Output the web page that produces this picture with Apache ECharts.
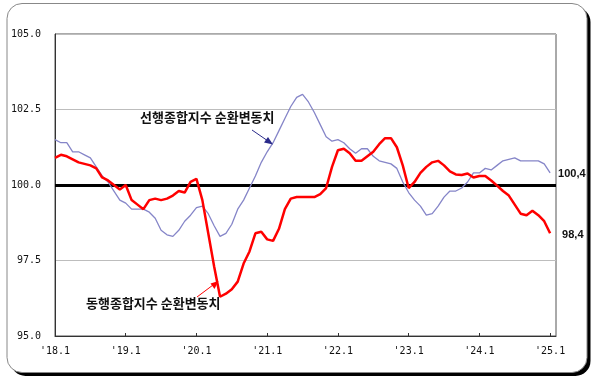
<!DOCTYPE html>
<html><head><meta charset="utf-8">
<script src="https://cdn.jsdelivr.net/npm/echarts@6/dist/echarts.min.js"></script>
<style>html,body{margin:0;padding:0;background:#fff}#c{width:600px;height:383px}</style>
</head><body><div id="c"></div>
<script>
const months = [
"'18.1","'18.2","'18.3","'18.4","'18.5","'18.6","'18.7","'18.8","'18.9","'18.10","'18.11","'18.12",
"'19.1","'19.2","'19.3","'19.4","'19.5","'19.6","'19.7","'19.8","'19.9","'19.10","'19.11","'19.12",
"'20.1","'20.2","'20.3","'20.4","'20.5","'20.6","'20.7","'20.8","'20.9","'20.10","'20.11","'20.12",
"'21.1","'21.2","'21.3","'21.4","'21.5","'21.6","'21.7","'21.8","'21.9","'21.10","'21.11","'21.12",
"'22.1","'22.2","'22.3","'22.4","'22.5","'22.6","'22.7","'22.8","'22.9","'22.10","'22.11","'22.12",
"'23.1","'23.2","'23.3","'23.4","'23.5","'23.6","'23.7","'23.8","'23.9","'23.10","'23.11","'23.12",
"'24.1","'24.2","'24.3","'24.4","'24.5","'24.6","'24.7","'24.8","'24.9","'24.10","'24.11","'24.12",
"'25.1","'25.2"];

const leadingIndex = [
101.5,101.4,101.4,101.1,101.1,101.0,100.9,100.6,100.3,100.1,
99.8,99.5,99.4,99.2,99.2,99.2,99.1,98.9,98.5,98.35,
98.3,98.5,98.8,99.0,99.25,99.3,99.05,98.65,98.3,98.4,
98.7,99.2,99.5,99.9,100.3,100.75,101.1,101.4,101.8,102.2,
102.6,102.9,103.0,102.75,102.4,102.0,101.6,101.45,101.5,101.4,
101.2,101.05,101.2,101.2,100.95,100.8,100.75,100.7,100.55,100.1,
99.75,99.5,99.3,99.0,99.05,99.3,99.6,99.8,99.8,99.9,
100.1,100.4,100.4,100.55,100.5,100.65,100.8,100.85,100.9,100.8,
100.8,100.8,100.8,100.7,100.4];

const coincidentIndex = [
100.9,101.0,100.95,100.85,100.75,100.7,100.65,100.55,100.25,100.15,
100.0,99.85,100.0,99.5,99.35,99.2,99.5,99.55,99.5,99.55,
99.65,99.8,99.75,100.1,100.2,99.5,98.4,97.3,96.3,96.4,
96.55,96.8,97.4,97.8,98.4,98.45,98.2,98.15,98.55,99.2,
99.55,99.6,99.6,99.6,99.6,99.7,99.9,100.6,101.15,101.2,
101.05,100.8,100.8,100.95,101.1,101.35,101.55,101.55,101.25,100.65,
99.9,100.1,100.4,100.6,100.75,100.8,100.65,100.45,100.35,100.33,
100.38,100.25,100.3,100.3,100.15,99.98,99.8,99.65,99.35,99.05,
99.0,99.15,99.0,98.8,98.4];

const leadingName = '선행종합지수 순환변동치';
const coincidentName = '동행종합지수 순환변동치';
const yTicks = [95, 97.5, 100, 102.5, 105];
const baseLine = 100;
const leadingEnd = '100,4';
const coincidentEnd = '98,4';

const chart = echarts.init(document.getElementById('c'), null, {renderer:'canvas'});

chart.setOption({
  animation:false,
  grid:{left:55, right:44, top:34, bottom:47, show:true, borderColor:'#555', borderWidth:1},
  xAxis:{type:'category', data:months, boundaryGap:false,
    axisLine:{show:true, lineStyle:{color:'#333', width:1}},
    axisTick:{show:true, inside:true, length:3, interval:11, lineStyle:{color:'#333'}},
    axisLabel:{interval:11, color:'#111', fontFamily:'DejaVu Sans Mono', fontSize:10, margin:10},
    splitLine:{show:false}},
  yAxis:{type:'value', min:yTicks[0], max:yTicks[yTicks.length-1], interval:2.5,
    axisLine:{show:true, lineStyle:{color:'#333'}},
    axisTick:{show:false},
    axisLabel:{formatter:v=>v.toFixed(1), color:'#111', fontFamily:'DejaVu Sans Mono', fontSize:10, margin:14},
    splitLine:{show:true, lineStyle:{color:'#bdbdbd', width:1}}},
  series:[
    {name:leadingName, type:'line', data:leadingIndex, showSymbol:false, symbol:'none',
     lineStyle:{color:'#8585c8', width:1.3}, z:3,
     endLabel:{show:true, formatter:leadingEnd, fontFamily:'Liberation Sans', fontWeight:'bold', fontSize:11, color:'#111', distance:8, offset:[0,1]},
     markLine:{silent:true, symbol:'none', label:{show:false},
       lineStyle:{color:'#000', width:3, type:'solid'}, data:[{yAxis:baseLine}], z:2}},
    {name:coincidentName, type:'line', data:coincidentIndex, showSymbol:false, symbol:'none',
     lineStyle:{color:'#ff0000', width:2.5}, z:4,
     endLabel:{show:true, formatter:coincidentEnd, fontFamily:'Liberation Sans', fontWeight:'bold', fontSize:11, color:'#111', distance:12, offset:[0,2]}}
  ],
  graphic:[
    {type:'rect', z:-10, shape:{x:10.5, y:7, width:580, height:369, r:15}, style:{fill:'#000'}},
    {type:'rect', z:-9, shape:{x:7, y:3.5, width:580, height:369, r:15}, style:{fill:'#fff', stroke:'#888', lineWidth:1}},
    {type:'text', z:10, left:140, top:111, style:{text:leadingName, font:'bold 13px "Noto Sans CJK KR"', fill:'#111'}},
    {type:'text', z:10, left:86, top:297, style:{text:coincidentName, font:'bold 13px "Noto Sans CJK KR"', fill:'#111'}},
    {type:'line', z:10, shape:{x1:252, y1:130, x2:268, y2:141}, style:{stroke:'#2a2a8a', lineWidth:1}},
    {type:'polygon', z:10, shape:{points:[[273,144.5],[264,142.5],[268,137]]}, style:{fill:'#2a2a8a'}},
    {type:'line', z:10, shape:{x1:197, y1:297, x2:213, y2:285}, style:{stroke:'#ff0000', lineWidth:1}},
    {type:'polygon', z:10, shape:{points:[[218.5,281],[214.5,289],[210.5,283.5]]}, style:{fill:'#ff0000'}}
  ]
});
</script></body></html>
